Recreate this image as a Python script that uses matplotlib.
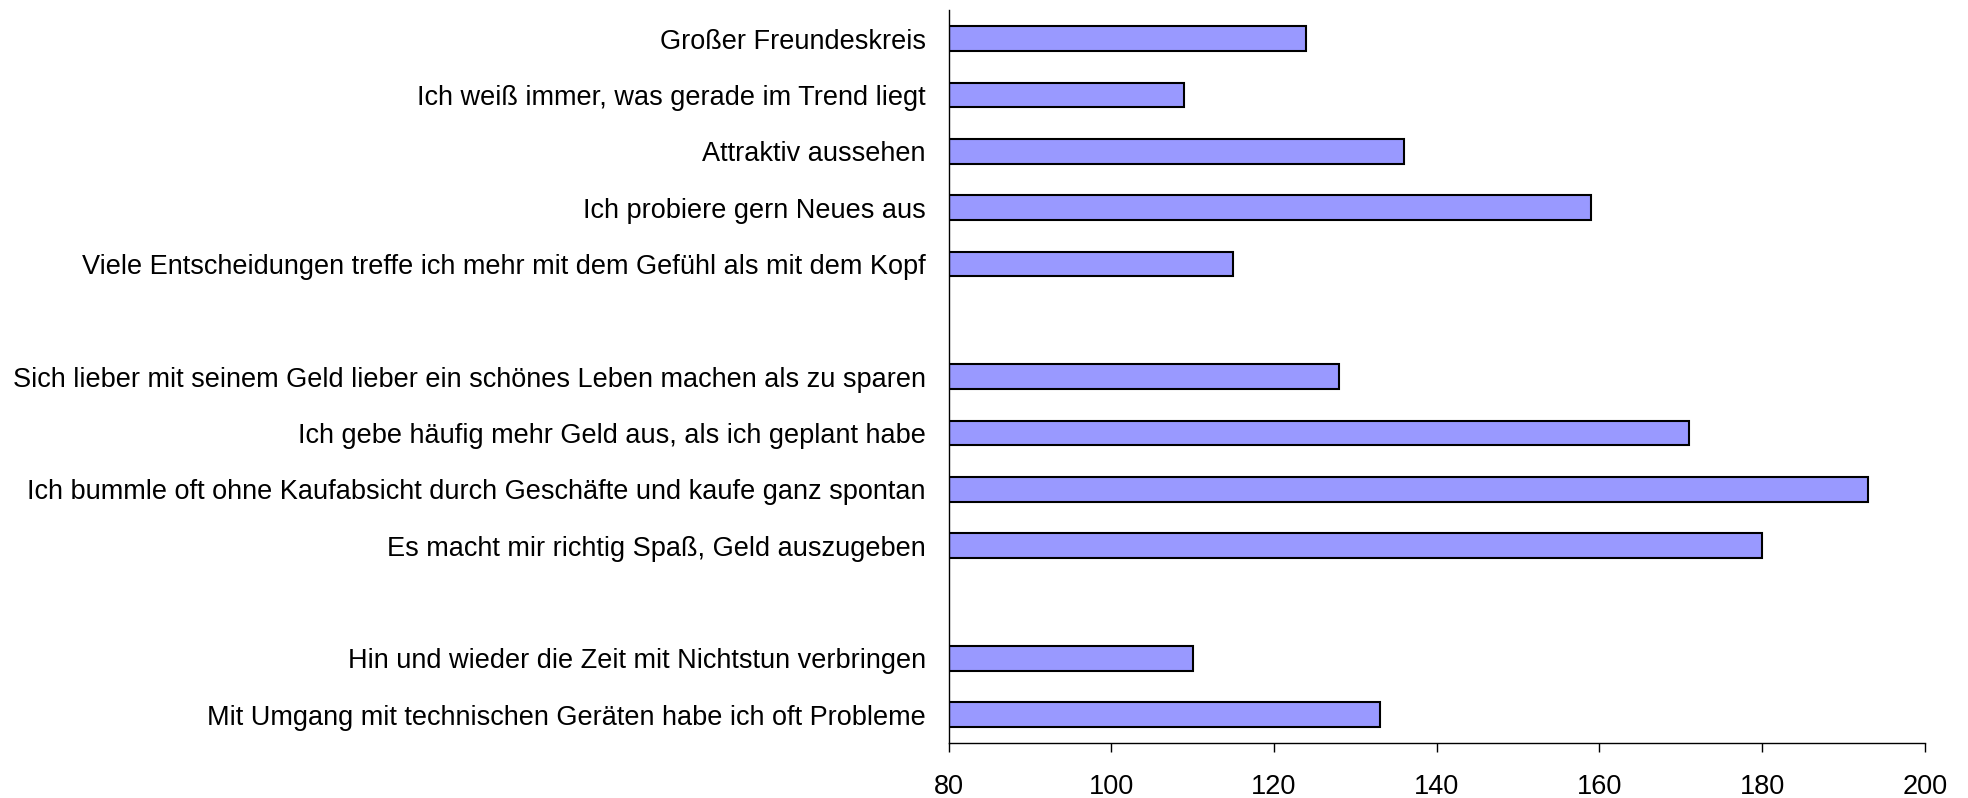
import numpy as np
import matplotlib.pyplot as plt

plt.rcParams['font.family'] = ['Liberation Sans', 'DejaVu Sans']

# ============= 数据 =============
# 三组陈述，各组之间空一行
group1 = ['Großer Freundeskreis',
          'Ich weiß immer, was gerade im Trend liegt',
          'Attraktiv aussehen',
          'Ich probiere gern Neues aus',
          'Viele Entscheidungen treffe ich mehr mit dem Gefühl als mit dem Kopf']
values1 = [124, 109, 136, 159, 115]

group2 = ['Sich lieber mit seinem Geld lieber ein schönes Leben machen als zu sparen',
          'Ich gebe häufig mehr Geld aus, als ich geplant habe',
          'Ich bummle oft ohne Kaufabsicht durch Geschäfte und kaufe ganz spontan',
          'Es macht mir richtig Spaß, Geld auszugeben']
values2 = [128, 171, 193, 180]

group3 = ['Hin und wieder die Zeit mit Nichtstun verbringen',
          'Mit Umgang mit technischen Geräten habe ich oft Probleme']
values3 = [110, 133]

x_ticks = [80, 100, 120, 140, 160, 180, 200]

# ============= 位置（从上到下，组间留空） =============
labels, values, slots = [], [], []
slot = 0
for names, vals in [(group1, values1), (group2, values2), (group3, values3)]:
    for n, v in zip(names, vals):
        labels.append(n)
        values.append(v)
        slots.append(slot)
        slot += 1
    slot += 1  # 组间空行
n_slots = slot - 1
ypos = [n_slots - 1 - s for s in slots]

# ============= 绘图 =============
fig = plt.figure(figsize=(19.68, 7.98), dpi=100)
ax = fig.add_axes([0.482, 0.069, 0.496, 0.918])

base = x_ticks[0]
ax.barh(ypos, np.array(values) - base, left=base, height=0.44,
        color='#9999FF', edgecolor='black', linewidth=1.5)

ax.set_xlim(x_ticks[0], x_ticks[-1])
ax.set_ylim(-0.5, n_slots - 0.5)
ax.set_xticks(x_ticks)
ax.set_yticks(ypos)
ax.set_yticklabels(labels)

ax.spines['top'].set_visible(False)
ax.spines['right'].set_visible(False)
ax.spines['left'].set_linewidth(1.0)
ax.spines['bottom'].set_linewidth(1.0)

ax.tick_params(axis='y', length=0, pad=16.5, labelsize=19.5)
ax.tick_params(axis='x', direction='out', length=6.5, width=1.0,
               pad=16, labelsize=19.5)

fig.savefig('out.png', dpi=100)
